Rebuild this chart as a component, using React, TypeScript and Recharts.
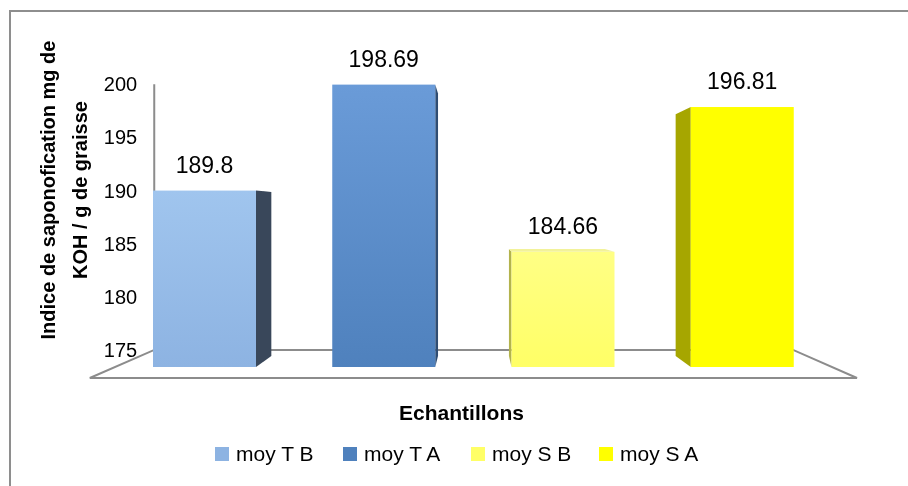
import React from "react";
import {
  BarChart,
  Bar,
  XAxis,
  YAxis,
  LabelList,
  Legend,
  ReferenceArea,
} from "recharts";

const CATEGORIES = ["moy T B", "moy T A", "moy S B", "moy S A"];
const VALUES = [189.8, 198.69, 184.66, 196.81];
const Y_TICKS = [175, 180, 185, 190, 195, 200];
const Y_TITLE = ["Indice de saponofication mg de", "KOH / g de graisse"];
const X_TITLE = "Echantillons";

const data = CATEGORIES.map((name, i) => ({ name, value: VALUES[i] }));

// colours per bar: front gradient (top, bottom), side face, top face, legend swatch
const BAR_STYLES = [
  { top: "#a0c5ee", bottom: "#8db3e2", side: "#39475a", cap: "#b4d2f2", swatch: "#8db3e2" },
  { top: "#6a9bd8", bottom: "#4f81bd", side: "#2f4d73", cap: "#7eaade", swatch: "#4f81bd" },
  { top: "#ffff85", bottom: "#ffff66", side: "#b3b34d", cap: "#f2f29a", swatch: "#ffff66" },
  { top: "#ffff00", bottom: "#ffff00", side: "#a6a600", cap: "#e6e64d", swatch: "#ffff00" },
];

const FONT = "'Liberation Sans', Arial, sans-serif";
// page is 908x486 with an 8px body margin, keep inside it
const W = 892;
const H = 470;
const MARGIN = { top: 61, right: 68, left: 10, bottom: 41 };
const Y_AXIS_W = 97;
const X_AXIS_H = 70;

// simple perspective: vanishing point and depth factors
const VP = { x: 467, y: 202 };
const K_BACK = 0.891;
const K_FLOOR = 1.07;
const K_BAR = 0.93;
const GRID = "#8c8c8c";

const proj = (px: number, py: number, k: number) => [
  VP.x + (px - VP.x) * k,
  VP.y + (py - VP.y) * k,
];

const pts = (list: number[][]) => list.map((p) => p.join(",")).join(" ");

const Floor = (props: any) => {
  const { x, y, width, height } = props;
  const l = x;
  const r = x + width;
  const b = y + height;
  const bl = proj(l, b, K_BACK);
  const br = proj(r, b, K_BACK);
  const tl = proj(l, y, K_BACK);
  const fl = proj(l, b, K_FLOOR);
  const fr = proj(r, b, K_FLOOR);
  return (
    <g>
      <line x1={tl[0]} y1={tl[1]} x2={bl[0]} y2={bl[1]} stroke={GRID} strokeWidth={2} />
      <polygon points={pts([bl, br, fr, fl])} fill="none" stroke={GRID} strokeWidth={2} />
    </g>
  );
};

const Bar3D = (props: any) => {
  const { x, y, width, height, index } = props;
  const st = BAR_STYLES[index % BAR_STYLES.length];
  const x2 = x + width;
  const y2 = y + height;
  const id = `bar-grad-${index}`;
  let side: number[][] | null = null;
  if (x2 < VP.x) side = [[x2, y], proj(x2, y, K_BAR), proj(x2, y2, K_BAR), [x2, y2]];
  else if (x > VP.x) side = [[x, y], proj(x, y, K_BAR), proj(x, y2, K_BAR), [x, y2]];
  const cap = y > VP.y ? [[x, y], [x2, y], proj(x2, y, K_BAR), proj(x, y, K_BAR)] : null;
  return (
    <g>
      <defs>
        <linearGradient id={id} x1="0" y1="0" x2="0" y2="1">
          <stop offset="0%" stopColor={st.top} />
          <stop offset="100%" stopColor={st.bottom} />
        </linearGradient>
      </defs>
      {side && <polygon points={pts(side)} fill={st.side} />}
      {cap && <polygon points={pts(cap)} fill={st.cap} />}
      <rect x={x} y={y} width={width} height={height} fill={`url(#${id})`} />
    </g>
  );
};

const YTick = (props: any) => {
  const { x, y, payload } = props;
  const [bx, by] = proj(x, y, K_BACK);
  return (
    <text
      x={bx - 17}
      y={by}
      dy="0.35em"
      textAnchor="end"
      fontSize={20}
      fontFamily={FONT}
      fill="#000"
    >
      {payload.value}
    </text>
  );
};

const YTitle = () => (
  <g>
    {Y_TITLE.map((line, i) => (
      <text
        key={line}
        transform={`translate(${47 + i * 32}, 182) rotate(-90)`}
        textAnchor="middle"
        fontSize={20}
        fontWeight="bold"
        fontFamily={FONT}
        fill="#000"
      >
        {line}
      </text>
    ))}
  </g>
);

const XTitle = (props: any) => {
  const vb = props.viewBox || { x: 0, y: 0, width: 0 };
  return (
    <text
      x={vb.x + vb.width / 2 - 12}
      y={vb.y + 53}
      textAnchor="middle"
      fontSize={21}
      fontWeight="bold"
      fontFamily={FONT}
      fill="#000"
    >
      {X_TITLE}
    </text>
  );
};

const LegendContent = () => (
  <div style={{ display: "flex", alignItems: "center", height: 30, fontFamily: FONT }}>
    {CATEGORIES.map((name, i) => (
      <div key={name} style={{ display: "flex", alignItems: "center", width: 128 }}>
        <span
          style={{
            display: "inline-block",
            width: 14,
            height: 14,
            background: BAR_STYLES[i].swatch,
            marginRight: 7,
          }}
        />
        <span style={{ fontSize: 21, color: "#000", whiteSpace: "nowrap" }}>{name}</span>
      </div>
    ))}
  </div>
);

export default function App() {
  return (
    <>
      {/* chart frame: only its top and left edges fall inside the picture */}
      <div
        style={{
          position: "fixed",
          left: 9,
          top: 10,
          width: 2000,
          height: 2000,
          border: "2px solid #8e8e8e",
          pointerEvents: "none",
        }}
      />
      <div
        style={{
          position: "relative",
          width: W,
          height: H,
          overflow: "hidden",
          fontFamily: FONT,
        }}
      >
        <BarChart width={W} height={H} data={data} margin={MARGIN}>
          <XAxis
            dataKey="name"
            height={X_AXIS_H}
            tick={false}
            axisLine={false}
            tickLine={false}
            label={{ content: XTitle }}
          />
          <YAxis
            domain={[175, 200]}
            ticks={Y_TICKS}
            width={Y_AXIS_W}
            axisLine={false}
            tickLine={false}
            tickSize={0}
            tickMargin={0}
            tick={YTick}
            allowDataOverflow
            label={{ content: YTitle }}
          />
          <ReferenceArea y1={175} y2={200} shape={Floor} zIndex={0} ifOverflow="visible" />
          <Bar dataKey="value" barSize={103} shape={Bar3D} isAnimationActive={false}>
            <LabelList
              dataKey="value"
              position="top"
              offset={18}
              fontSize={23}
              fontFamily={FONT}
              fill="#000"
            />
          </Bar>
          <Legend
            verticalAlign="middle"
            align="center"
            layout="horizontal"
            content={LegendContent}
            wrapperStyle={{ top: 431, left: 207, bottom: "auto", width: 560, height: 30 }}
          />
        </BarChart>
      </div>
    </>
  );
}
